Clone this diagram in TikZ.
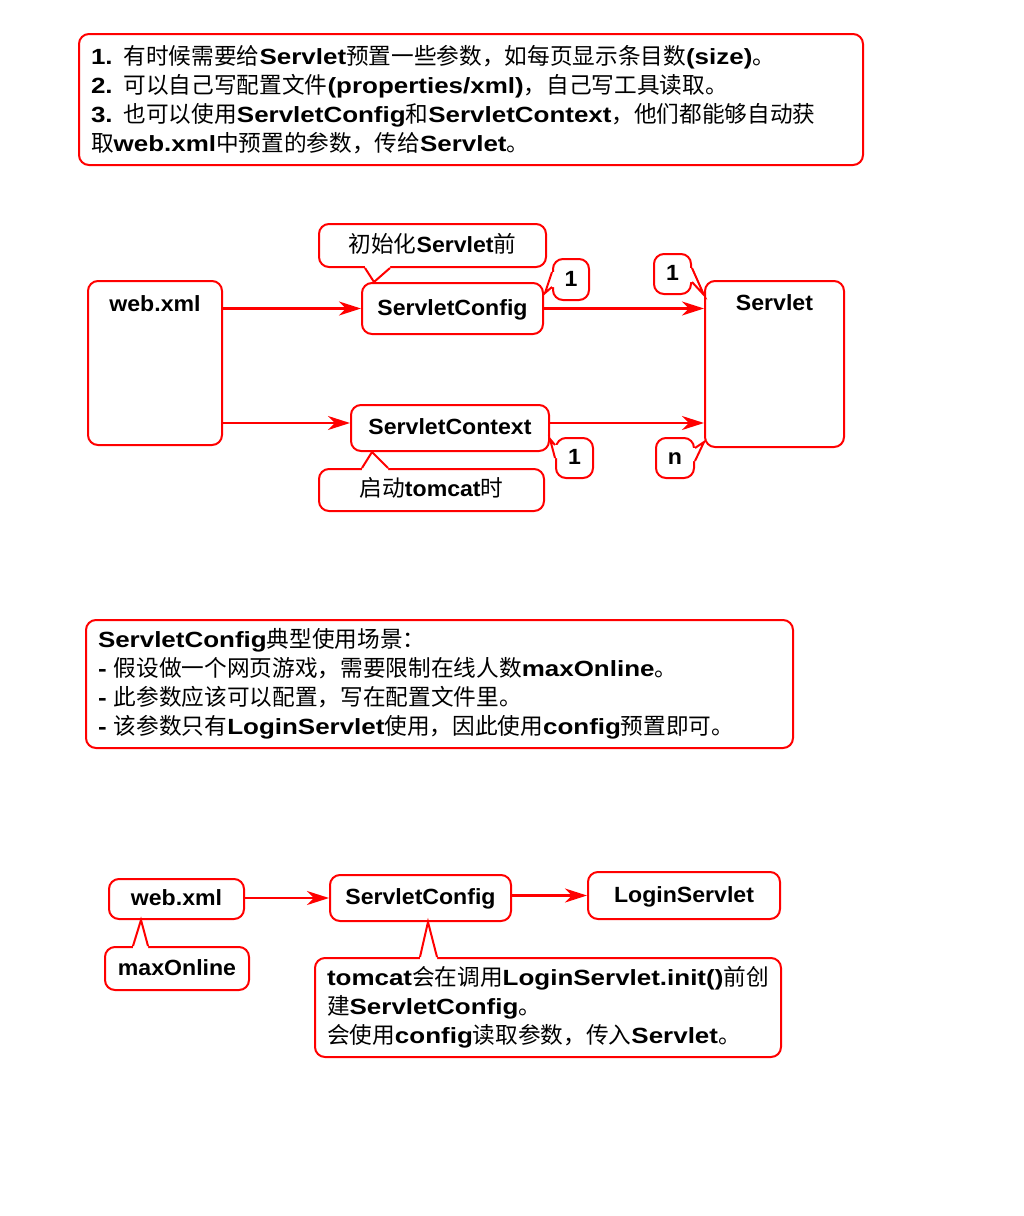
\documentclass[tikz,border=0pt]{standalone}
\usepackage{fontspec}
\setmainfont{Liberation Sans}[FakeStretch=1.05]
\newfontfamily\widesans{Liberation Sans}[FakeStretch=1.18]
\newfontfamily\cjk{Noto Sans CJK SC}[Scale=1.03]
\usetikzlibrary{arrows.meta,calc}
\newcommand\zh[1]{{\mdseries\cjk #1}}
\definecolor{linered}{RGB}{255,0,0}

% callout tail: base point, tip, base point, inward shift (covers the border under the base)
\newcommand\calltail[5]{%
  \fill[white] (#1) -- (#2) -- (#3) -- ([shift={(#4,#5)}]#3) -- ([shift={(#4,#5)}]#1) -- cycle;
  \draw[tail] (#1) -- (#2) -- (#3);}

\begin{document}
\begin{tikzpicture}[x=1pt,y=-1pt,
  box/.style={draw=linered, line width=2pt, rounded corners=10pt, fill=white,
    inner sep=0pt, anchor=north west},
  lbl/.style={box, font=\fontsize{22}{26}\selectfont\bfseries,
    text height=17pt, text depth=4pt},
  toplbl/.style 2 args={box, font=\fontsize{22}{26}\selectfont\bfseries,
    text height=#1, text depth=#2},
  note/.style={box, font=\fontsize{22}{29}\selectfont\widesans\bfseries, align=left},
  flow/.style={draw=linered, line width=2.2pt,
    -{Stealth[length=22pt,width=14pt,inset=7pt]}},
  tail/.style={draw=linered, line width=2pt, line join=miter},
]
\fill[white] (0,0) rectangle (1024,1216);
\useasboundingbox (0,0) rectangle (1024,1216);

% ---------- introduction ----------
\node[note, minimum width=784pt, minimum height=131pt, text width=760pt] (intro) at (78,33)
{1. \zh{有时候需要给}Servlet\zh{预置一些参数，如每页显示条目数}(size)\zh{。}\\
 2. \zh{可以自己写配置文件}(properties/xml)\zh{，自己写工具读取。}\\
 3. \zh{也可以使用}ServletConfig\zh{和}ServletContext\zh{，他们都能够自动获}\\
 \zh{取}web.xml\zh{中预置的参数，传给}Servlet\zh{。}};

% ---------- web.xml -> config / context -> Servlet ----------
\node[toplbl={30pt}{134pt}, minimum width=134pt, minimum height=164pt] (webxml) at (87,280) {web.xml};
\node[toplbl={29pt}{137pt}, minimum width=139pt, minimum height=166pt] (servlet) at (704,280) {Servlet};
\node[lbl, minimum width=181pt, minimum height=51pt] (cfg) at (361,282) {ServletConfig};
\node[lbl, minimum width=198pt, minimum height=46pt] (ctx) at (350,404) {ServletContext};

\node[lbl, minimum width=227pt, minimum height=43pt] (initnote) at (318,223) {\zh{初始化}Servlet\zh{前}};
\node[lbl, minimum width=225pt, minimum height=42pt] (startnote) at (318,468) {\zh{启动}tomcat\zh{时}};
\node[lbl, minimum width=36pt, minimum height=41pt] (mcfg) at (552,258) {1};
\node[lbl, minimum width=37pt, minimum height=40pt] (mscfg) at (653,253) {1};
\node[lbl, minimum width=37pt, minimum height=40pt] (mctx) at (555,437) {1};
\node[lbl, minimum width=38pt, minimum height=40pt] (msctx) at (655,437) {n};

\draw[flow] (webxml.east |- cfg.west) -- (cfg.west);
\draw[flow] (cfg.east) -- (cfg.east -| servlet.west);
\coordinate (ctxin) at ([yshift=5pt]ctx.west);
\coordinate (ctxout) at ([yshift=5pt]ctx.east);
\draw[flow] (webxml.east |- ctxin) -- (ctxin);
\draw[flow] (ctxout) -- (ctxout -| servlet.west);

\calltail{$(initnote.south west)+(47,0)$}{$(cfg.north west)+(13,0)$}{$(initnote.south west)+(72,0)$}{0}{-3}
\calltail{$(startnote.north west)+(44,0)$}{$(ctx.south west)+(22,0)$}{$(startnote.north west)+(70,0)$}{0}{3}
\calltail{$(mcfg.north west)+(0,14)$}{$(cfg.north east)+(1,11)$}{$(mcfg.north west)+(0,29)$}{3}{0}
\calltail{$(mscfg.north east)+(0,15)$}{$(servlet.north west)+(0,15)$}{$(mscfg.north east)+(0,29)$}{-3}{0}
\calltail{$(mctx.north west)+(0,8)$}{$(ctx.south east)+(0,-13)$}{$(mctx.north west)+(0,21)$}{3}{0}
\calltail{$(msctx.north east)+(0,11)$}{$(servlet.south west)+(0,-6)$}{$(msctx.north east)+(0,24)$}{-3}{0}

% ---------- typical use ----------
\node[note, minimum width=707pt, minimum height=128pt, text width=683pt] (usage) at (85,619)
{ServletConfig\zh{典型使用场景：}\\
 - \zh{假设做一个网页游戏，需要限制在线人数}maxOnline\zh{。}\\
 - \zh{此参数应该可以配置，写在配置文件里。}\\
 - \zh{该参数只有}LoginServlet\zh{使用，因此使用}config\zh{预置即可。}};

% ---------- maxOnline example ----------
\node[lbl, minimum width=135pt, minimum height=40pt] (webxml2) at (108,878) {web.xml};
\node[lbl, minimum width=144pt, minimum height=43pt] (maxon) at (104,946) {maxOnline};
\node[lbl, minimum width=181pt, minimum height=46pt] (cfg2) at (329,874) {ServletConfig};
\node[lbl, minimum width=192pt, minimum height=47pt] (login) at (587,871) {LoginServlet};
\node[note, minimum width=466pt, minimum height=99pt, text width=442pt] (cfgnote) at (314,957)
{tomcat\zh{会在调用}LoginServlet.init()\zh{前创}\\
 \zh{建}ServletConfig\zh{。}\\
 \zh{会使用}config\zh{读取参数，传入}Servlet\zh{。}};

\draw[flow] (webxml2.east |- cfg2.west) -- (cfg2.west);
\draw[flow] (login.west -| cfg2.east) -- (login.west);

\calltail{$(maxon.north west)+(29,0)$}{$(webxml2.south west)+(33,0)$}{$(maxon.north west)+(44,0)$}{0}{3}
\calltail{$(cfgnote.north west)+(106,0)$}{$(cfg2.south west)+(99,0)$}{$(cfgnote.north west)+(123,0)$}{0}{3}
\end{tikzpicture}
\end{document}
